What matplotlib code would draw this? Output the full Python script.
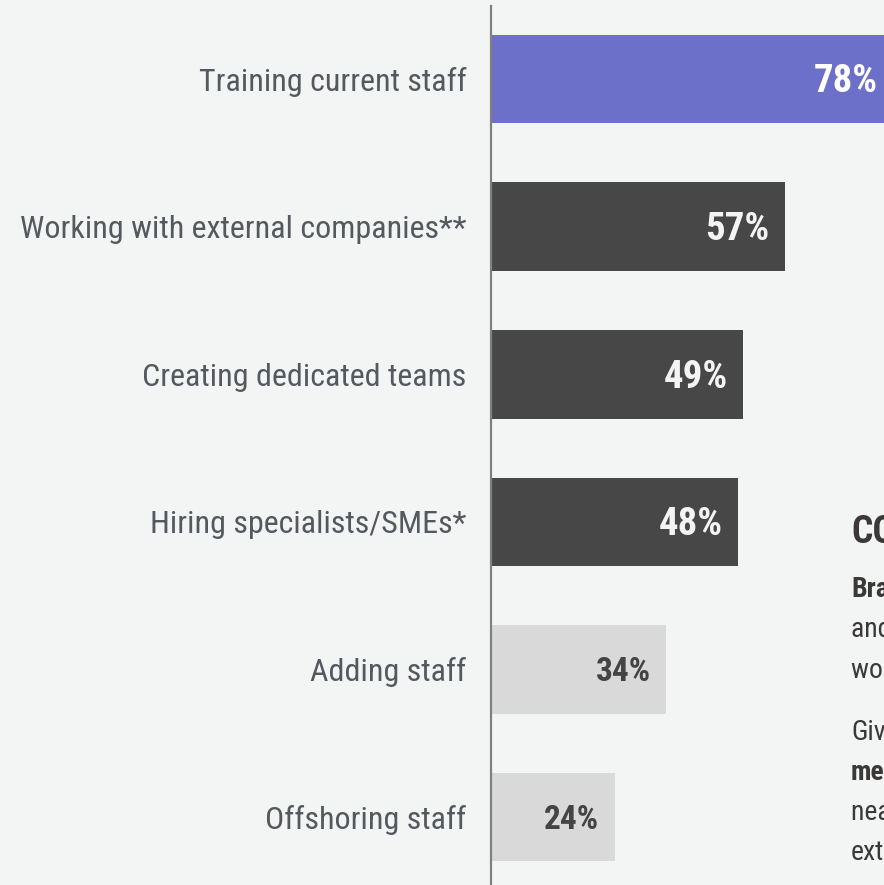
import matplotlib
matplotlib.use('Agg')
import matplotlib.pyplot as plt

# dati
categorie = ['Training current staff', 'Working with external companies**',
             'Creating dedicated teams', 'Hiring specialists/SMEs*',
             'Adding staff', 'Offshoring staff']
valori = [78, 57, 49, 48, 34, 24]
etichette = ['78%', '57%', '49%', '48%', '34%', '24%']
colori = ['#6c70c8', '#474747', '#474747', '#474747', '#d9d9d9', '#d9d9d9']
colori_testo = ['white', '#f4f4f4', '#f4f4f4', '#f4f4f4', '#444444', '#444444']

# testo a destra (tagliato dal bordo come nell'originale)
titolo_box = 'CONCLUSION'
righe_box = [('Brands', 'bold'), ('and agencies', 'normal'), ('work together', 'normal'),
             ('Given', 'normal'), ('measurement', 'bold'), ('nearly all', 'normal'),
             ('extra', 'normal')]
base_box = [597, 637, 678, 740, 780, 820, 860]

sfondo = '#f3f5f4'
plt.rcParams['font.family'] = ['Roboto Condensed', 'DejaVu Sans']

W, H = 884, 885
fig = plt.figure(figsize=(W / 100, H / 100), dpi=100, facecolor=sfondo)
ax = fig.add_axes([491 / W, 0, 1 - 491 / W, (H - 6) / H])
ax.set_facecolor(sfondo)

pos = list(range(len(categorie)))
ax.barh(pos, valori, height=0.6, color=colori)

ax.set_xlim(0, (W - 491) / 5.15)
ax.set_ylim(5.46, -0.495)

ax.set_yticks(pos)
ax.set_yticklabels(categorie, fontsize=23, color='#55595f')
ax.tick_params(axis='y', length=0, pad=17.5)
for t in ax.get_yticklabels():
    t.set_va('center_baseline')
ax.set_xticks([])
for s in ['top', 'right', 'bottom']:
    ax.spines[s].set_visible(False)
ax.spines['left'].set_color('#808080')
ax.spines['left'].set_linewidth(1.6)

for i in pos:
    grande = valori[i] > 40
    ax.annotate(etichette[i], xy=(valori[i], i), xytext=(-11, -2),
                textcoords='offset points', ha='right', va='center',
                fontsize=28 if grande else 24, fontweight='bold',
                color=colori_testo[i], annotation_clip=False)

fig.text(851 / W, 1 - 543 / H, titolo_box, fontsize=27, fontweight='bold',
         color='#3b3838', va='baseline', ha='left')
for (riga, peso), b in zip(righe_box, base_box):
    fig.text(851 / W, 1 - b / H, riga, fontsize=20, fontweight=peso,
             color='#3b3838', va='baseline', ha='left')

fig.savefig('out.png', facecolor=sfondo)
